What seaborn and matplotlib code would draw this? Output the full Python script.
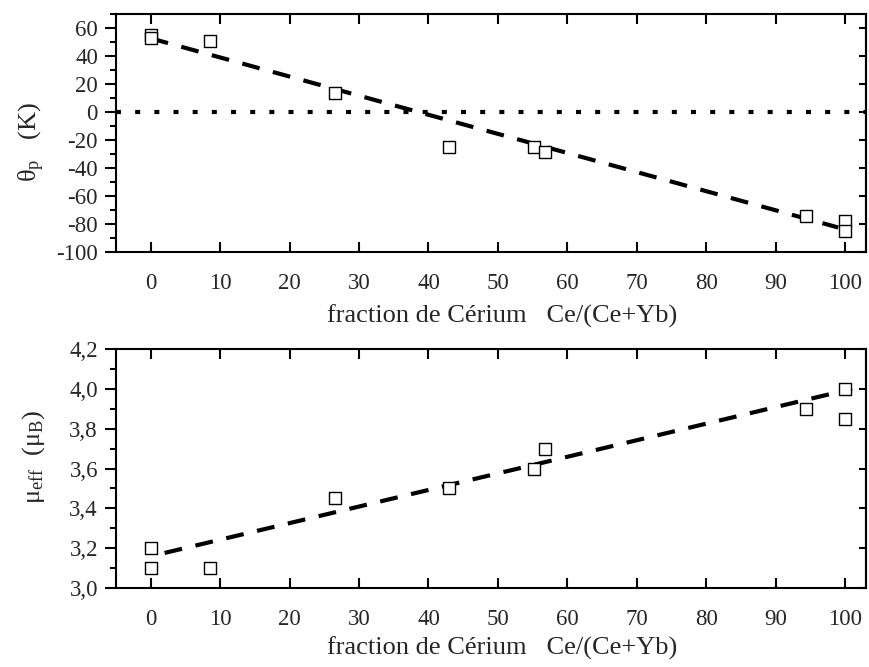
import matplotlib
matplotlib.use("Agg")
import matplotlib.pyplot as plt
import seaborn as sns
import numpy as np
import pandas as pd
from matplotlib.ticker import MultipleLocator, FuncFormatter

# ---- data ----
ce_fraction = [0, 0, 8.5, 26.5, 43, 55.2, 56.8, 94.3, 100, 100]
theta_p = [55, 53, 51, 13.5, -25, -25, -28.7, -74, -78, -85]
mu_eff = [3.2, 3.1, 3.1, 3.45, 3.5, 3.6, 3.7, 3.9, 4.0, 3.85]

fit_theta_x = [0, 99]
fit_theta_y = [52.6, -82.5]
fit_mu_x = [2, 101]
fit_mu_y = [3.176, 4.0]

xticks = [0, 10, 20, 30, 40, 50, 60, 70, 80, 90, 100]
xlabel = "fraction de Cérium   Ce/(Ce+Yb)"

sns.set_theme(style="ticks")
plt.rcParams["font.family"] = ["Liberation Serif", "DejaVu Serif"]
plt.rcParams["mathtext.fontset"] = "custom"
plt.rcParams["mathtext.rm"] = "Liberation Serif"
plt.rcParams["mathtext.it"] = "Liberation Serif:italic"
plt.rcParams["axes.unicode_minus"] = False

fig = plt.figure(figsize=(8.7, 6.67), dpi=100)
ax1 = fig.add_axes([116 / 870, 1 - 252 / 667, 750 / 870, 238 / 667])
ax2 = fig.add_axes([116 / 870, 1 - 588 / 667, 750 / 870, 239 / 667])

df = pd.DataFrame({"x": ce_fraction, "theta": theta_p, "mu": mu_eff})

TICK_FS = 16.5
XLAB_FS = 19
YLAB_FS = 19


def style_axes(ax, ymaj, ymin):
    for s in ax.spines.values():
        s.set_linewidth(1.5)
        s.set_color("black")
    ax.set_xlim(-5, 103)
    ax.set_xticks(xticks)
    ax.yaxis.set_major_locator(MultipleLocator(ymaj))
    ax.yaxis.set_minor_locator(MultipleLocator(ymin))
    ax.tick_params(axis="x", which="major", direction="in", top=True, bottom=True,
                   length=7, width=1.5, labelsize=TICK_FS, pad=15, color="black")
    ax.tick_params(axis="y", which="major", direction="out", left=True, right=False,
                   length=8, width=1.5, labelsize=TICK_FS, pad=5, color="black")
    ax.tick_params(axis="y", which="minor", direction="out", left=True, right=False,
                   length=4, width=1.5, color="black")
    ax.tick_params(axis="x", which="minor", bottom=False, top=False)
    sec = ax.secondary_yaxis("right")
    sec.yaxis.set_major_locator(MultipleLocator(ymaj))
    sec.tick_params(axis="y", which="major", direction="in", length=5, width=1.5,
                    labelright=False, color="black")
    sec.tick_params(axis="y", which="minor", right=False)
    sec.spines["right"].set_linewidth(1.5)
    ax.grid(False)


# ---- top panel ----
ax1.axhline(0, color="black", lw=3, ls=(0, (1.2, 3.4)), dash_capstyle="butt")
sns.lineplot(x=fit_theta_x, y=fit_theta_y, ax=ax1, color="black", lw=3,
             dashes=False, legend=False)
ax1.lines[-1].set_linestyle((0, (4.3, 3.3)))
ax1.lines[-1].set_dash_capstyle("butt")
sns.scatterplot(data=df, x="x", y="theta", ax=ax1, marker="s", s=80,
                facecolor="white", edgecolor="black", linewidth=1, zorder=5)
ax1.set_ylim(-100, 70)
style_axes(ax1, 20, 10)
ax1.set_ylabel(r"θ$_{\mathrm{p}}$   (K)", fontsize=YLAB_FS)
ax1.yaxis.set_label_coords(-0.092, 0.462)
ax1.set_xlabel(xlabel, fontsize=XLAB_FS)
ax1.xaxis.set_label_coords(0.515, -0.222)

# ---- bottom panel ----
sns.lineplot(x=fit_mu_x, y=fit_mu_y, ax=ax2, color="black", lw=3,
             dashes=False, legend=False)
ax2.lines[-1].set_linestyle((0, (4.3, 3.3)))
ax2.lines[-1].set_dash_capstyle("butt")
sns.scatterplot(data=df, x="x", y="mu", ax=ax2, marker="s", s=80,
                facecolor="white", edgecolor="black", linewidth=1, zorder=5)
ax2.set_ylim(3.0, 4.2)
style_axes(ax2, 0.2, 0.1)
ax2.yaxis.set_major_formatter(FuncFormatter(lambda v, p: f"{v:.1f}".replace(".", ",")))
ax2.set_ylabel(r"μ$_{\mathrm{eff}}$  (μ$_{\mathrm{B}}$)", fontsize=YLAB_FS)
ax2.yaxis.set_label_coords(-0.092, 0.548)
ax2.set_xlabel(xlabel, fontsize=XLAB_FS)
ax2.xaxis.set_label_coords(0.515, -0.205)

fig.savefig("out.png", dpi=100)
